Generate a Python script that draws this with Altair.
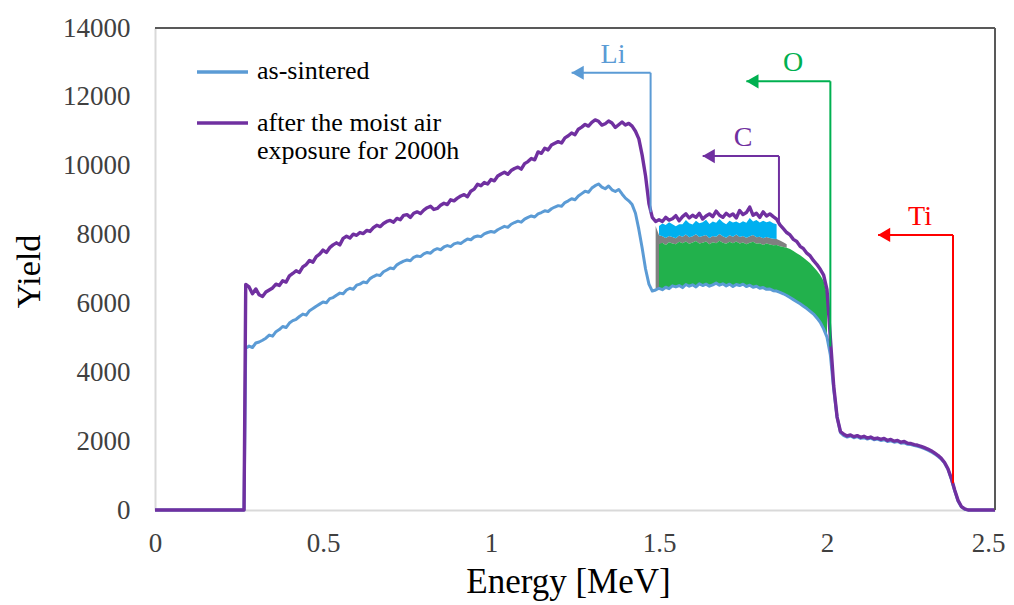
import altair as alt
import pandas as pd

# ---------------- data ----------------
energy = [
    0.00, 0.265,
    0.27, 0.28, 0.29, 0.30, 0.31, 0.32, 0.33, 0.34, 0.35, 0.36,
    0.37, 0.38, 0.39, 0.40, 0.41, 0.42, 0.43, 0.44, 0.45, 0.46,
    0.47, 0.48, 0.49, 0.50, 0.51, 0.52, 0.53, 0.54, 0.55, 0.56,
    0.57, 0.58, 0.59, 0.60, 0.61, 0.62, 0.63, 0.64, 0.65, 0.66,
    0.67, 0.68, 0.69, 0.70, 0.71, 0.72, 0.73, 0.74, 0.75, 0.76,
    0.77, 0.78, 0.79, 0.80, 0.81, 0.82, 0.83, 0.84, 0.85, 0.86,
    0.87, 0.88, 0.89, 0.90, 0.91, 0.92, 0.93, 0.94, 0.95, 0.96,
    0.97, 0.98, 0.99, 1.00, 1.01, 1.02, 1.03, 1.04, 1.05, 1.06,
    1.07, 1.08, 1.09, 1.10, 1.11, 1.12, 1.13, 1.14, 1.15, 1.16,
    1.17, 1.18, 1.19, 1.20, 1.21, 1.22, 1.23, 1.24, 1.25, 1.26,
    1.27, 1.28, 1.29, 1.30, 1.31, 1.32, 1.33, 1.34, 1.35, 1.36,
    1.37, 1.38, 1.39, 1.40, 1.41, 1.42, 1.43, 1.44, 1.45, 1.46,
    1.47, 1.48, 1.49, 1.50, 1.51, 1.52, 1.53, 1.54, 1.55, 1.56,
    1.57, 1.58, 1.59, 1.60, 1.61, 1.62, 1.63, 1.64, 1.65, 1.66,
    1.67, 1.68, 1.69, 1.70, 1.71, 1.72, 1.73, 1.74, 1.75, 1.76,
    1.77, 1.78, 1.79, 1.80, 1.81, 1.82, 1.83, 1.84, 1.85, 1.86,
    1.87, 1.88, 1.89, 1.90, 1.91, 1.92, 1.93, 1.94, 1.95, 1.96,
    1.97, 1.98, 1.99, 2.00, 2.01, 2.02, 2.03, 2.04, 2.05, 2.06,
    2.07, 2.08, 2.09, 2.10, 2.11, 2.12, 2.13, 2.14, 2.15, 2.16,
    2.17, 2.18, 2.19, 2.20, 2.21, 2.22, 2.23, 2.24, 2.25, 2.26,
    2.27, 2.28, 2.29, 2.30, 2.31, 2.32, 2.33, 2.34, 2.35, 2.36,
    2.37, 2.38, 2.39, 2.40, 2.41,
    2.42, 2.50,
]

as_sintered = [
    0, 0,
    4700, 4760, 4720, 4850, 4880, 4930, 4990, 5080, 5050, 5180,
    5240, 5330, 5300, 5430, 5500, 5540, 5620, 5690, 5660, 5790,
    5850, 5920, 5980, 6040, 6020, 6140, 6170, 6240, 6300, 6280,
    6390, 6440, 6410, 6530, 6560, 6620, 6600, 6720, 6780, 6830,
    6810, 6920, 6970, 7030, 7010, 7120, 7180, 7230, 7260, 7240,
    7340, 7380, 7360, 7440, 7480, 7460, 7550, 7590, 7560, 7640,
    7680, 7650, 7730, 7760, 7740, 7810, 7870, 7850, 7930, 7960,
    7940, 8020, 8060, 8090, 8070, 8140, 8190, 8240, 8210, 8300,
    8350, 8390, 8360, 8450, 8500, 8540, 8510, 8600, 8640, 8690,
    8670, 8750, 8800, 8840, 8820, 8930, 8980, 9040, 9010, 9120,
    9190, 9260, 9230, 9350, 9420, 9470, 9380, 9330, 9410, 9300,
    9250, 9310, 9180, 9060, 8980, 8870, 8620, 8150, 7600, 7000,
    6560, 6360, 6390, 6440, 6400, 6470, 6430, 6510, 6480, 6520,
    6460, 6550, 6500, 6540, 6480, 6570, 6520, 6560, 6500, 6540,
    6590, 6530, 6570, 6510, 6560, 6490, 6550, 6520, 6560, 6490,
    6530, 6470, 6500, 6440, 6460, 6410, 6420, 6370, 6360, 6320,
    6280, 6230, 6170, 6110, 6050, 5990, 5920, 5850, 5770, 5690,
    5580, 5450, 5260, 5020, 4500, 3500, 2700, 2250, 2160, 2120,
    2150, 2100, 2130, 2080, 2100, 2060, 2090, 2040, 2060, 2020,
    2040, 1990, 2010, 1970, 1990, 1940, 1950, 1910, 1900, 1870,
    1850, 1820, 1780, 1740, 1690, 1630, 1560, 1480, 1360, 1180,
    900, 560, 260, 90, 20,
    0, 0,
]

after_exposure = [
    0, 0,
    6550, 6480, 6280, 6420, 6250, 6200, 6330, 6390, 6450, 6560,
    6520, 6660, 6620, 6800, 6870, 6950, 6900, 7060, 7130, 7250,
    7200, 7360, 7430, 7550, 7480, 7620, 7700, 7760, 7700, 7890,
    7950, 7900, 8010, 7980, 8060, 8030, 8120, 8090, 8200, 8270,
    8230, 8320, 8380, 8410, 8360, 8470, 8430, 8560, 8580, 8500,
    8620, 8660, 8610, 8710, 8780, 8820, 8730, 8760, 8850, 8910,
    8870, 9010, 8980, 9060, 9120, 9160, 9100, 9260, 9320, 9460,
    9420, 9510, 9470, 9600, 9560, 9700, 9760, 9810, 9750, 9860,
    9920, 9960, 9900, 10060, 10120, 10210, 10170, 10400, 10360, 10510,
    10460, 10600, 10650, 10700, 10660, 10810, 10870, 10950, 10900, 11060,
    11120, 11200, 11150, 11260, 11330, 11290, 11180, 11220, 11300, 11240,
    11110, 11190, 11270, 11180, 11230, 11150, 11000, 10780, 10300, 9700,
    8900, 8500, 8380, 8430, 8380, 8500, 8420, 8460, 8550, 8400,
    8520, 8600, 8480, 8560, 8500, 8620, 8450, 8540, 8600, 8520,
    8680, 8560, 8500, 8620, 8540, 8600, 8480, 8700, 8580, 8640,
    8800, 8560, 8620, 8500, 8660, 8540, 8600, 8520, 8450, 8280,
    8170, 8060, 7990, 7860, 7800, 7660, 7590, 7460, 7380, 7240,
    7130, 6990, 6820, 6400, 5000, 3600, 2700, 2280, 2200, 2150,
    2180, 2130, 2160, 2110, 2140, 2090, 2120, 2070, 2090, 2050,
    2080, 2020, 2050, 2000, 2020, 1970, 1990, 1940, 1930, 1900,
    1880, 1850, 1810, 1770, 1720, 1660, 1590, 1500, 1380, 1200,
    920, 580, 280, 100, 30,
    0, 0,
]

# shaded bands between the two spectra (1.49 - 2.00 MeV)
band_energy = [
    1.50, 1.51, 1.52, 1.53, 1.54, 1.55, 1.56, 1.57, 1.58, 1.59,
    1.60, 1.61, 1.62, 1.63, 1.64, 1.65, 1.66, 1.67, 1.68, 1.69,
    1.70, 1.71, 1.72, 1.73, 1.74, 1.75, 1.76, 1.77, 1.78, 1.79,
    1.80, 1.81, 1.82, 1.83, 1.84, 1.85, 1.86, 1.87, 1.88, 1.89,
    1.90, 1.91, 1.92, 1.93, 1.94, 1.95, 1.96, 1.97, 1.98, 1.99,
    2.00,
]
green_top = [
    7720, 7760, 7700, 7780, 7740, 7720, 7790, 7750, 7800, 7730,
    7770, 7810, 7740, 7760, 7800, 7720, 7780, 7750, 7820, 7760,
    7730, 7790, 7750, 7800, 7740, 7770, 7720, 7760, 7790, 7730,
    7750, 7700, 7740, 7710, 7690, 7700, 7660, 7640, 7620, 7580,
    7520, 7460, 7400, 7330, 7250, 7170, 7060, 6950, 6820, 6650,
    6250,
]
gray_energy = [
    1.49, 1.50, 1.51, 1.52, 1.53, 1.54, 1.55, 1.56, 1.57, 1.58,
    1.59, 1.60, 1.61, 1.62, 1.63, 1.64, 1.65, 1.66, 1.67, 1.68,
    1.69, 1.70, 1.71, 1.72, 1.73, 1.74, 1.75, 1.76, 1.77, 1.78,
    1.79, 1.80, 1.81, 1.82, 1.83, 1.84, 1.85, 1.86, 1.87, 1.88,
]
gray_top = [
    8250, 7980, 7950, 7900, 7960, 7930, 7890, 7970, 7940, 8000,
    7920, 7950, 8010, 7930, 7960, 7990, 7900, 7960, 7940, 8020,
    7950, 7910, 7980, 7940, 8000, 7930, 7960, 7910, 7950, 7990,
    7920, 7940, 7890, 7930, 7900, 7880, 7870, 7830, 7780, 7720,
]
lightblue_top = [
    8250, 8320, 8280, 8360, 8300, 8240, 8300, 8300, 8420, 8330,
    8290, 8400, 8330, 8360, 8430, 8310, 8380, 8340, 8450, 8360,
    8300, 8400, 8350, 8380, 8330, 8390, 8340, 8480, 8380, 8420,
    8350, 8400, 8360, 8390, 8330, 8300,
]

# element edge arrows
elements = ["Li", "C", "O", "Ti"]
element_colors = ["#5b9bd5", "#7030a0", "#00b050", "#ff0000"]
edge_energy = [1.475, 1.857, 2.010, 2.375]
edge_low = [8650, 8300, 4750, 780]
edge_high = [12700, 10280, 12450, 7990]
arrow_tip = [1.24, 1.63, 1.76, 2.152]
label_energy = [1.363, 1.75, 1.899, 2.277]
label_yield = [13215, 10800, 12980, 8510]

legend_lines = ["as-sintered", "after the moist air", "exposure for 2000h"]

x_ticks = [0, 0.5, 1, 1.5, 2, 2.5]
y_ticks = [0, 2000, 4000, 6000, 8000, 10000, 12000, 14000]

assert len(energy) == len(as_sintered) == len(after_exposure)
assert len(band_energy) == len(green_top)
assert len(gray_energy) == len(gray_top)

# ---------------- tables ----------------
curves = pd.DataFrame({"energy": energy, "as_sintered": as_sintered,
                       "after_exposure": after_exposure})
blue_at = {round(e, 3): v for e, v in zip(energy, as_sintered)}

green_df = pd.DataFrame({
    "energy": band_energy,
    "low": [blue_at[round(e, 3)] for e in band_energy],
    "high": green_top,
})
gray_low = [blue_at[round(gray_energy[0], 3)], blue_at[round(gray_energy[1], 3)]] + green_top[1:len(gray_energy) - 1]
gray_df = pd.DataFrame({"energy": gray_energy, "low": gray_low, "high": gray_top})
lb_energy = band_energy[:len(lightblue_top)]
lightblue_df = pd.DataFrame({"energy": lb_energy, "low": gray_top[1:len(lightblue_top) + 1],
                             "high": lightblue_top})

arrows = pd.DataFrame({"element": elements, "edge": edge_energy, "low": edge_low,
                       "high": edge_high, "tip": arrow_tip,
                       "lx": label_energy, "ly": label_yield})

# ---------------- encodings ----------------
FONT = "Liberation Serif"
W, H = 840, 482

xscale = alt.Scale(domain=[0, 2.5], nice=False, zero=False)
yscale = alt.Scale(domain=[0, 14000], nice=False)

xaxis = alt.Axis(values=x_ticks, format="~g", title="Energy [MeV]", grid=False,
                 ticks=False, domainColor="#d9d9d9", domainWidth=2,
                 labelFont=FONT, labelFontSize=27, labelColor="#404040",
                 labelPadding=20, labelFlush=False, labelOverlap=False,
                 labelOffset={"condition": {"test": "datum.value >= 2.5", "value": -7},
                              "value": 0},
                 titleFont=FONT, titleFontSize=35, titleFontWeight="normal",
                 titleColor="#000000", titleX=413, titleY=71,
                 titleBaseline="middle", titleAlign="center")
yaxis = alt.Axis(values=y_ticks, format="d", title="Yield", grid=False,
                 ticks=False, domainColor="#d9d9d9", domainWidth=2,
                 labelFont=FONT, labelFontSize=27, labelColor="#404040",
                 labelPadding=25, labelOverlap=False,
                 titleFont=FONT, titleFontSize=34, titleFontWeight="normal",
                 titleColor="#000000", titleX=-126, titleY=243, titleAngle=270,
                 titleBaseline="middle", titleAlign="center")


def X(field):
    return alt.X(field, type="quantitative", scale=xscale, axis=xaxis)


def Y(field):
    return alt.Y(field, type="quantitative", scale=yscale, axis=yaxis)


elem_color = alt.Color("element:N", scale=alt.Scale(domain=elements, range=element_colors),
                       legend=None)

gray_band = alt.Chart(gray_df).mark_area(color="#808080", opacity=1).encode(
    x=X("energy"), y=Y("low"), y2="high")
green_band = alt.Chart(green_df).mark_area(color="#22b14c", opacity=1).encode(
    x=X("energy"), y=Y("low"), y2="high")
lb_band = alt.Chart(lightblue_df).mark_area(color="#00b0f0", opacity=1).encode(
    x=X("energy"), y=Y("low"), y2="high")

blue_line = alt.Chart(curves).mark_line(color="#5b9bd5", strokeWidth=3,
                                        strokeJoin="round").encode(
    x=X("energy"), y=Y("as_sintered"))
purple_line = alt.Chart(curves).mark_line(color="#7030a0", strokeWidth=3.4,
                                          strokeJoin="round").encode(
    x=X("energy"), y=Y("after_exposure"))

arrow_vert = alt.Chart(arrows).mark_rule(strokeWidth=2).encode(
    x=X("edge"), y=Y("low"), y2="high", color=elem_color)
arrow_horiz = alt.Chart(arrows).mark_rule(strokeWidth=2).encode(
    x=X("tip"), x2="edge", y=Y("high"), color=elem_color)
arrow_head = alt.Chart(arrows).mark_point(shape="triangle-left", filled=True, size=200,
                                          opacity=1, xOffset=6, strokeWidth=0).encode(
    x=X("tip"), y=Y("high"), color=elem_color)
arrow_text = alt.Chart(arrows).mark_text(font=FONT, fontSize=28, align="center",
                                         baseline="middle").encode(
    x=X("lx"), y=Y("ly"), text="element:N", color=elem_color)

# frame (top and right edges darker, like the reference)
frame_src = alt.Data(values=[{"f": 1}])
frame_top = alt.Chart(frame_src).mark_rule(color="#595959", strokeWidth=2).encode(
    x=alt.value(0), x2=alt.value(W), y=alt.value(0))
frame_right = alt.Chart(frame_src).mark_rule(color="#595959", strokeWidth=2).encode(
    x=alt.value(W), y=alt.value(0), y2=alt.value(H))

# manual legend inside the plot
leg_blue = alt.Chart(frame_src).mark_rule(color="#5b9bd5", strokeWidth=3.5).encode(
    x=alt.value(42), x2=alt.value(93), y=alt.value(44))
leg_purple = alt.Chart(frame_src).mark_rule(color="#7030a0", strokeWidth=3.5).encode(
    x=alt.value(42), x2=alt.value(93), y=alt.value(95))
leg_t1 = alt.Chart(pd.DataFrame({"t": [legend_lines[0]]})).mark_text(
    font=FONT, fontSize=26, align="left", baseline="middle", color="#000000").encode(
    x=alt.value(102), y=alt.value(43), text="t:N")
leg_t2 = alt.Chart(pd.DataFrame({"t": [legend_lines[1]]})).mark_text(
    font=FONT, fontSize=26, align="left", baseline="middle", color="#000000").encode(
    x=alt.value(102), y=alt.value(95), text="t:N")
leg_t3 = alt.Chart(pd.DataFrame({"t": [legend_lines[2]]})).mark_text(
    font=FONT, fontSize=26, align="left", baseline="middle", color="#000000").encode(
    x=alt.value(102), y=alt.value(123), text="t:N")

chart = alt.layer(
    gray_band, green_band, lb_band, blue_line, purple_line,
    arrow_vert, arrow_horiz, arrow_head, arrow_text,
    frame_top, frame_right, leg_blue, leg_purple, leg_t1, leg_t2, leg_t3,
).properties(
    width=W, height=H,
    autosize=alt.AutoSizeParams(type="none"),
    padding={"left": 147, "top": 20, "right": 11, "bottom": 95},
    background="#ffffff",
).configure_view(stroke=None)

chart.save("out.html", embed_options={"renderer": "svg", "actions": False})
